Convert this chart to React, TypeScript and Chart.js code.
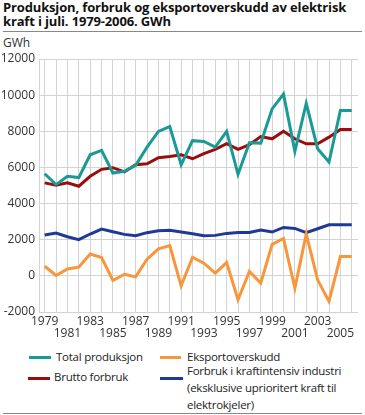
import React, { useEffect, useRef } from 'react';
import { Chart, registerables } from 'chart.js';

Chart.register(...registerables);

const years = [1979, 1980, 1981, 1982, 1983, 1984, 1985, 1986, 1987, 1988, 1989, 1990, 1991, 1992, 1993, 1994, 1995, 1996, 1997, 1998, 1999, 2000, 2001, 2002, 2003, 2004, 2005, 2006];
const totalProduksjon = [5650, 5050, 5510, 5440, 6700, 6940, 5690, 5785, 6115, 7125, 7990, 8260, 6150, 7480, 7440, 7125, 7990, 5620, 7365, 7345, 9240, 10065, 6890, 9550, 7035, 6300, 9150, 9150];
const bruttoForbruk = [5145, 5015, 5145, 4960, 5510, 5895, 5985, 5750, 6150, 6205, 6535, 6610, 6700, 6480, 6760, 7000, 7310, 7000, 7255, 7710, 7585, 8005, 7585, 7310, 7310, 7675, 8100, 8100];
const eksportoverskudd = [530, 20, 385, 480, 1210, 1010, -255, 90, -55, 920, 1490, 1670, -550, 1030, 700, 150, 735, -1320, 240, -400, 1745, 2075, -680, 2315, -220, -1415, 1065, 1065];
const kraftintensiv = [2260, 2370, 2165, 2000, 2315, 2590, 2440, 2295, 2220, 2390, 2500, 2520, 2425, 2330, 2220, 2240, 2350, 2405, 2405, 2535, 2425, 2680, 2625, 2390, 2605, 2830, 2830, 2830];

const yTicks = [-2000, 0, 2000, 4000, 6000, 8000, 10000, 12000];
const xLabelsRow1 = [1979, 1983, 1987, 1991, 1995, 1999, 2003];
const xLabelsRow2 = [1981, 1985, 1989, 1993, 1997, 2001, 2005];

const TEAL = '#1a9a96';
const RED = '#9b0d0d';
const ORANGE = '#f7963a';
const BLUE = '#1e3a96';
const GRID = '#d3d3d3';
const FONT = "'Open Sans', sans-serif";

const pts = (vals: number[]) => years.map((y, i) => ({ x: y, y: vals[i] }));

export default function App() {
  const ref = useRef<HTMLCanvasElement>(null);
  useEffect(() => {
    if (!ref.current) return;
    const chart = new Chart(ref.current, {
      type: 'line',
      data: {
        datasets: [
          { label: 'Total produksjon', data: pts(totalProduksjon), borderColor: TEAL, backgroundColor: TEAL },
          { label: 'Eksportoverskudd', data: pts(eksportoverskudd), borderColor: ORANGE, backgroundColor: ORANGE },
          { label: 'Brutto forbruk', data: pts(bruttoForbruk), borderColor: RED, backgroundColor: RED },
          { label: 'Forbruk i kraftintensiv industri', data: pts(kraftintensiv), borderColor: BLUE, backgroundColor: BLUE },
        ],
      },
      options: {
        animation: false,
        responsive: false,
        devicePixelRatio: 1,
        elements: { line: { borderWidth: 3, tension: 0 }, point: { radius: 0, hoverRadius: 0 } },
        layout: { padding: { top: 59, right: 7, left: 0, bottom: 0 } },
        plugins: { legend: { display: false }, tooltip: { enabled: false }, title: { display: false } },
        scales: {
          x: {
            type: 'linear',
            min: 1978.5,
            max: 2006.55,
            afterBuildTicks: (s: any) => { s.ticks = years.map((v) => ({ value: v })); },
            afterFit: (s: any) => { s.height = 33; },
            grid: { color: GRID, lineWidth: 1, drawTicks: false },
            border: { display: false },
            ticks: {
              autoSkip: false,
              maxRotation: 0,
              minRotation: 0,
              padding: 4,
              color: '#333',
              font: { family: FONT, size: 12, lineHeight: 0.97 },
              callback: (v: any) => {
                const n = Number(v);
                if (xLabelsRow1.includes(n)) return String(n);
                if (xLabelsRow2.includes(n)) return ['', String(n)];
                return '';
              },
            },
          },
          y: {
            min: -2000,
            max: 12000,
            afterBuildTicks: (s: any) => { s.ticks = yTicks.map((v) => ({ value: v })); },
            afterFit: (s: any) => { s.width = 39; },
            grid: { color: GRID, lineWidth: 1, drawTicks: false },
            border: { color: GRID, width: 1 },
            ticks: {
              padding: 4,
              color: '#333',
              font: { family: FONT, size: 12 },
              callback: (v: any) => String(v),
            },
          },
        },
      },
    } as any);
    return () => chart.destroy();
  }, []);

  const abs = (o: React.CSSProperties): React.CSSProperties => ({ position: 'absolute', ...o });
  const text: React.CSSProperties = { fontFamily: FONT, fontSize: 11.5, letterSpacing: '-0.25px', color: '#222', whiteSpace: 'nowrap' };

  return (
    <div style={{ position: 'absolute', left: 0, top: 0, width: 365, height: 415, background: '#fff', overflow: 'hidden' }}>
      <div style={abs({ left: 3, top: 0, fontFamily: FONT, fontWeight: 700, fontSize: 13, letterSpacing: '-0.15px', lineHeight: '14px', color: '#111', whiteSpace: 'nowrap' })}>
        Produksjon, forbruk og eksportoverskudd av elektrisk<br />kraft i juli. 1979-2006. GWh
      </div>
      <div style={abs({ left: 3, top: 31, width: 359, height: 1, background: '#888' })} />
      <div style={abs({ left: 3, top: 36, fontFamily: FONT, fontSize: 12, lineHeight: '14px', color: '#333' })}>GWh</div>
      <canvas ref={ref} width={365} height={345} style={abs({ left: 0, top: 0, width: 365, height: 345 })} />

      <div style={abs({ left: 29, top: 355.5, width: 22, height: 3, background: TEAL })} />
      <div style={abs({ ...text, left: 56, top: 349, lineHeight: '16px' })}>Total produksjon</div>
      <div style={abs({ left: 160, top: 355.5, width: 21, height: 3, background: ORANGE })} />
      <div style={abs({ ...text, left: 187, top: 349, lineHeight: '16px' })}>Eksportoverskudd</div>
      <div style={abs({ left: 28, top: 376.5, width: 22, height: 3, background: RED })} />
      <div style={abs({ ...text, left: 54, top: 369, lineHeight: '16px' })}>Brutto forbruk</div>
      <div style={abs({ left: 160, top: 376.5, width: 23, height: 3, background: BLUE })} />
      <div style={abs({ ...text, left: 187, top: 362, lineHeight: '17px' })}>
        Forbruk i kraftintensiv industri<br />(eksklusive uprioritert kraft til<br />elektrokjeler)
      </div>
      <div style={abs({ left: 3, top: 413, width: 359, height: 1, background: '#888' })} />
    </div>
  );
}
